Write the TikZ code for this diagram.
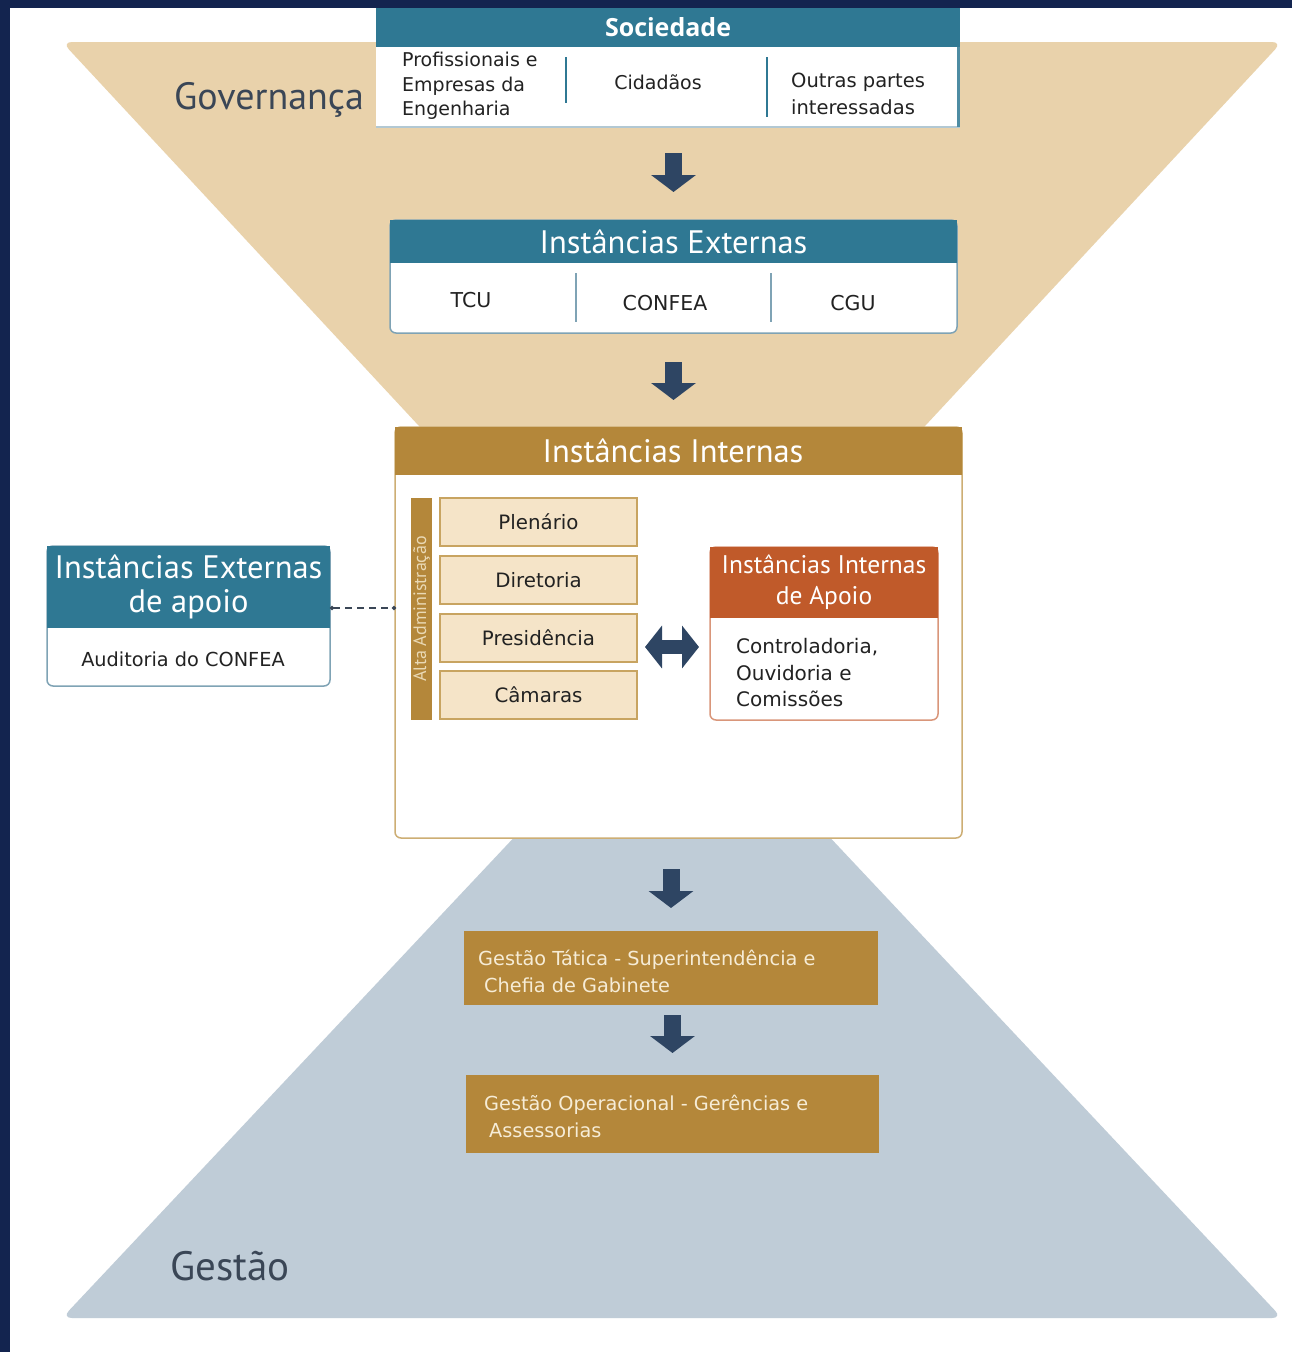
\documentclass[tikz,border=0pt]{standalone}
\usepackage{fontspec}
\setmainfont{DejaVu Sans}
\newfontfamily\hf{PT Sans}
\newfontfamily\of{Open Sans}
\usetikzlibrary{arrows.meta,calc}
\definecolor{navyc}{HTML}{13244F}
\definecolor{tanfun}{HTML}{E9D2AB}
\definecolor{greyfun}{HTML}{BFCCD7}
\definecolor{tealc}{HTML}{2F7893}
\definecolor{tealline}{HTML}{7FA3B5}
\definecolor{goldc}{HTML}{B4873A}
\definecolor{goldline}{HTML}{CDAE74}
\definecolor{tanbox}{HTML}{F5E4C8}
\definecolor{tanborder}{HTML}{C8A461}
\definecolor{orangec}{HTML}{C05A2A}
\definecolor{orangeline}{HTML}{D9967A}
\definecolor{arrowc}{HTML}{2E4563}
\definecolor{txtc}{HTML}{222222}
\definecolor{govc}{HTML}{3A4656}
\definecolor{creamc}{HTML}{F6ECD6}
\definecolor{altac}{HTML}{EAD9B5}
\begin{document}
\begin{tikzpicture}[x=1pt,y=-1pt,
  box/.style={anchor=north west, inner sep=0pt, outer sep=0pt},
  hdr/.style={box, text=white, align=center, font=\hf\fontsize{32.5}{34}\selectfont},
  bodybox/.style={box, fill=white, rounded corners=6pt, line width=1.5pt},
  txt/.style={text=txtc, inner sep=0pt, font=\fontsize{19}{24.5}\selectfont},
  tanb/.style={box, fill=tanbox, draw=tanborder, line width=1.2pt, minimum width=197pt, minimum height=48pt, text=txtc, font=\fontsize{19.8}{22}\selectfont},
  gbox/.style={box, fill=goldc},
  gtxt/.style={anchor=west, align=left, inner sep=0pt, text=creamc, font=\fontsize{19.3}{27}\selectfont},
  divider/.style={line width=1.5pt},
  blockarrow/.style={arrowc, line width=17pt, -{Triangle[width=44pt,length=17pt]}},
  dashconn/.style={draw=govc, line width=1.5pt, dash pattern=on 7pt off 5pt, {Circle[length=4pt]}-{Circle[length=4pt]}},
  big/.style={text=govc, inner sep=0pt, anchor=west, font=\hf\fontsize{38}{40}\selectfont}
]
\useasboundingbox (0,0) rectangle (1292,1352);
\fill[white] (0,0) rectangle (1292,1352);
\fill[navyc] (0,0) rectangle (10,1352);
\fill[navyc] (0,0) rectangle (1292,8);

% funnels
\fill[tanfun, rounded corners=10pt] (62,42) -- (1282,42) -- (912,440) -- (432,440) -- cycle;
\fill[greyfun, rounded corners=10pt] (521,830) -- (823,830) -- (1282,1318) -- (62,1318) -- cycle;

\node[big] (gov) at (174,100) {Governança};
\node[big, font=\hf\fontsize{41}{43}\selectfont] (gest) at (170,1266) {Gestão};

% Sociedade
\node[box, fill=white, minimum width=584pt, minimum height=119pt] (soc) at (376,8) {};
\draw[tealline!60, line width=2pt] (soc.south west) -- (soc.south east);
\draw[tealc!85, line width=3pt] ([xshift=-1.5pt]soc.north east) -- ([xshift=-1.5pt]soc.south east);
\node[box, fill=tealc, minimum width=584pt, minimum height=39pt, text=white, font=\of\bfseries\fontsize{25}{28}\selectfont] (soch) at (376,8) {Sociedade};
\node[txt, anchor=west, align=left] (prof) at (402,86) {Profissionais e\\Empresas da\\Engenharia};
\node[txt] (cid) at (658,82) {Cidadãos};
\node[txt, anchor=west, align=left, font=\fontsize{19.5}{27}\selectfont] (out) at (791,94) {Outras partes\\interessadas};
\draw[tealc, divider] (566,57) -- (566,103);
\draw[tealc, divider] (767,57) -- (767,117);

% Instancias Externas
\node[bodybox, draw=tealline, minimum width=567pt, minimum height=113pt] (ext) at (390,220) {};
\node[hdr, fill=tealc, minimum width=567pt, minimum height=43pt] (exth) at (390,220) {Instâncias Externas};
\node[txt, font=\fontsize{20.5}{24}\selectfont] (tcu) at (471,300) {TCU};
\node[txt, font=\fontsize{20.5}{24}\selectfont] (confea) at (665,303) {CONFEA};
\node[txt, font=\fontsize{20.5}{24}\selectfont] (cgu) at (853,303) {CGU};
\draw[tealline, divider] (576,273) -- (576,322);
\draw[tealline, divider] (771,273) -- (771,322);

% Instancias Internas
\node[bodybox, draw=goldline, minimum width=567pt, minimum height=411pt] (int) at (395,427) {};
\node[hdr, fill=goldc, minimum width=567pt, minimum height=48pt] (inth) at (395,427) {\hspace*{-11pt}Instâncias Internas};

\node[box, fill=goldc, minimum width=21pt, minimum height=222pt] (alta) at (411,498) {};
\node[rotate=90, inner sep=0pt, text=altac, font=\hf\fontsize{18}{20}\selectfont] (altat) at (alta.center) {Alta Administração};

\node[tanb] (plen) at (440,498) {Plenário};
\node[tanb] (dir) at (440,556) {Diretoria};
\node[tanb] (pres) at (440,614) {Presidência};
\node[tanb] (cam) at (440,671) {Câmaras};

\node[bodybox, draw=orangeline, minimum width=228pt, minimum height=173pt] (apo) at (710,547) {};
\node[hdr, fill=orangec, minimum width=228pt, minimum height=71pt, font=\hf\fontsize{25.5}{31}\selectfont] (apoh) at (710,547) {Instâncias Internas\\de Apoio};
\node[txt, anchor=west, align=left, font=\fontsize{20}{26.5}\selectfont] (apot) at (736,673) {Controladoria,\\Ouvidoria e\\Comissões};

% Instancias Externas de apoio
\node[bodybox, draw=tealline, minimum width=283pt, minimum height=140pt] (lex) at (47,546) {};
\node[hdr, fill=tealc, minimum width=283pt, minimum height=82pt] (lexh) at (47,546) {Instâncias Externas\\de apoio};
\node[txt, font=\fontsize{19.3}{24}\selectfont] (aud) at (183,659) {Auditoria do CONFEA};

\coordinate (dashend) at (396,608);
\draw[dashconn] (dashend -| lex.east) -- (dashend);

% Gestao boxes
\node[gbox, minimum width=414pt, minimum height=74pt] (tat) at (464,931) {};
\node[gtxt] (tatt) at (478,971.5) {Gestão Tática - Superintendência e\\\hspace*{6pt}Chefia de Gabinete};
\node[gbox, minimum width=413pt, minimum height=78pt] (op) at (466,1075) {};
\node[gtxt] (opt) at (484,1116.5) {Gestão Operacional - Gerências e\\\hspace*{5pt}Assessorias};

% arrows
\draw[blockarrow, shorten <=26pt, shorten >=28pt] (exth.north |- soc.south) -- (exth.north);
\draw[blockarrow, shorten <=29pt, shorten >=27pt] (ext.south) -- (ext.south |- inth.north);
\draw[blockarrow, shorten <=31pt, shorten >=23pt] (tat.north |- int.south) -- (tat.north);
\draw[blockarrow, shorten <=10pt, shorten >=22pt] (op.north |- tat.south) -- (op.north);
\draw[arrowc, line width=14pt, {Triangle[width=42pt,length=17pt]}-{Triangle[width=42pt,length=17pt]}, shorten <=8pt, shorten >=11pt] ([yshift=-9pt]pres.east) -- ([yshift=-9pt]pres.east -| apo.west);
\end{tikzpicture}
\end{document}
